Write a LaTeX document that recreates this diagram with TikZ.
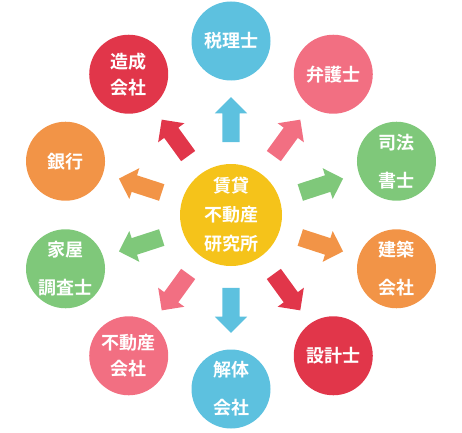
\documentclass[tikz,border=0pt]{standalone}
\usepackage{fontspec}
\newfontfamily\cjk{Noto Sans CJK JP}[BoldFont={Noto Sans CJK JP Bold}]
\usetikzlibrary{shapes.arrows}
\definecolor{cblue}{HTML}{5DC1DF}
\definecolor{cpink}{HTML}{F26F82}
\definecolor{cgreen}{HTML}{7FC87A}
\definecolor{corange}{HTML}{F29447}
\definecolor{cred}{HTML}{E1364A}
\definecolor{cyellow}{HTML}{F5C31A}
\tikzset{
  ball/.style={circle, fill=#1, draw=none, minimum size=79pt, inner sep=0pt,
    text=white, align=center, font=\cjk\bfseries\fontsize{18}{26}\selectfont},
  hub/.style={circle, fill=cyellow, draw=none, minimum size=102pt, inner sep=0pt,
    text=white, align=center, font=\cjk\bfseries\fontsize{18}{29}\selectfont},
  blockarrow/.style={single arrow, fill=#1, draw=none, minimum height=45pt,
    inner xsep=0pt, inner ysep=8.5pt, single arrow head extend=7.5pt,
    single arrow tip angle=90}
}
\begin{document}
\begin{tikzpicture}[x=1pt,y=1pt]
\useasboundingbox (0,0) rectangle (462,432);
\begin{scope}[shift={(231,217)}]
\node[hub] (c) at (0,0) {賃貸\\不動産\\研究所};
% outer circles
\node[ball=cblue]   (zeiri)   at (90:174)   {税理士};
\node[ball=cpink]   (bengo)   at (54:174)   {弁護士};
\node[ball=cgreen]  (shiho)   at (18:174)   {司法\\[12pt]書士};
\node[ball=corange] (kenchiku) at (-18:174) {建築\\[12pt]会社};
\node[ball=cred]    (sekkei)  at (-54:174)  {設計士};
\node[ball=cblue]   (kaitai)  at (-90:174)  {解体\\[12pt]会社};
\node[ball=cpink]   (fudosan) at (-126:174) {不動産\\会社};
\node[ball=cgreen]  (kaoku)   at (-162:174) {家屋\\[12pt]調査士};
\node[ball=corange] (ginko)   at (162:174)  {銀行};
\node[ball=cred]    (zosei)   at (126:174)  {造成\\会社};
% arrows
\node[blockarrow=cblue,   rotate=90]   (a1)  at (90:91)   {};
\node[blockarrow=cpink,   rotate=54]   (a2)  at (54:91)   {};
\node[blockarrow=cgreen,  rotate=18]   (a3)  at (18:91)   {};
\node[blockarrow=corange, rotate=-18]  (a4)  at (-18:91)  {};
\node[blockarrow=cred,    rotate=-54]  (a5)  at (-54:91)  {};
\node[blockarrow=cblue,   rotate=-90]  (a6)  at (-90:91)  {};
\node[blockarrow=cpink,   rotate=-126] (a7)  at (-126:91) {};
\node[blockarrow=cgreen,  rotate=-162] (a8)  at (-162:91) {};
\node[blockarrow=corange, rotate=162]  (a9)  at (162:91)  {};
\node[blockarrow=cred,    rotate=126]  (a10) at (126:91)  {};
\end{scope}
\end{tikzpicture}
\end{document}
